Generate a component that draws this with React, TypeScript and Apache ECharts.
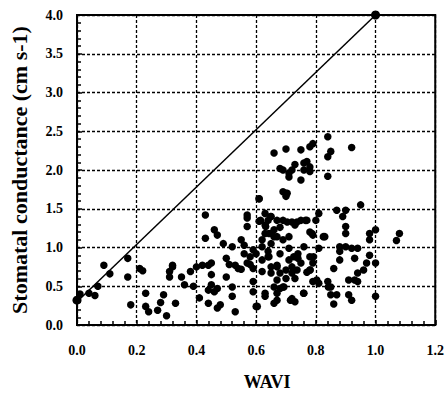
import React, { useEffect, useRef } from "react";
import * as echarts from "echarts";

const wavi: number[] = [
  0.0, 0.01, 0.04, 0.06, 0.07, 0.09, 0.11, 0.17, 0.17, 0.18, 0.21, 0.22, 0.23, 0.23, 0.24, 0.27,
  0.28, 0.29, 0.3, 0.33, 0.31, 0.32, 0.32, 0.31, 0.35, 0.36, 0.38, 0.39, 0.41, 0.42, 0.43, 0.43,
  0.44, 0.44, 0.45, 0.45, 0.44, 0.46, 0.46, 0.47, 0.48, 0.47, 0.49, 0.5, 0.5, 0.52, 0.52, 0.52,
  0.53, 0.53, 0.54, 0.55, 0.56, 0.57, 0.57, 0.57, 0.56, 0.57, 0.58, 0.59, 0.59, 0.6, 0.59, 0.59,
  0.6, 0.61, 0.61, 0.62, 0.62, 0.62, 0.62, 0.63, 0.63, 0.63, 0.63, 0.63, 0.64, 0.65, 0.65, 0.65,
  0.64, 0.65, 0.65, 0.66, 0.66, 0.67, 0.67, 0.67, 0.66, 0.67, 0.67, 0.68, 0.68, 0.68, 0.68, 0.69,
  0.7, 0.69, 0.7, 0.7, 0.69, 0.69, 0.69, 0.7, 0.71, 0.71, 0.73, 0.72, 0.71, 0.71, 0.71, 0.72,
  0.72, 0.73, 0.72, 0.73, 0.72, 0.73, 0.74, 0.74, 0.75, 0.75, 0.75, 0.75, 0.76, 0.76, 0.76, 0.76,
  0.77, 0.77, 0.78, 0.77, 0.78, 0.78, 0.78, 0.79, 0.78, 0.78, 0.79, 0.79, 0.79, 0.8, 0.81, 0.81,
  0.81, 0.83, 0.84, 0.84, 0.84, 0.85, 0.84, 0.85, 0.85, 0.86, 0.86, 0.87, 0.87, 0.88, 0.88, 0.88,
  0.89, 0.9, 0.9, 0.9, 0.9, 0.91, 0.91, 0.92, 0.92, 0.92, 0.93, 0.93, 0.94, 0.94, 0.94, 0.95,
  0.96, 0.97, 0.98, 0.98, 0.98, 1.0, 1.0, 1.0, 1.0, 1.08, 1.07, 0.68, 0.67, 0.7, 0.64,
  0.615, 0.632, 0.649, 0.643, 0.66, 0.704, 0.737, 0.765, 0.787, 0.825, 0.643, 0.67, 0.726, 0.737,
  0.792, 0.781, 0.66, 0.693, 0.715, 0.759, 0.803, 0.842, 0.604, 0.704, 0.61, 0.4, 0.45, 0.51,
  0.55, 0.58, 0.47,
];

const conductance: number[] = [
  0.32, 0.4, 0.41, 0.38, 0.5, 0.77, 0.66, 0.86, 0.62, 0.26, 0.73, 0.7, 0.41, 0.24, 0.17, 0.19,
  0.29, 0.39, 0.12, 0.28, 0.69, 0.75, 0.77, 0.62, 0.62, 0.52, 0.69, 0.5, 0.35, 0.77, 1.42, 1.12,
  0.28, 0.77, 0.65, 0.52, 0.45, 0.43, 1.23, 1.16, 0.26, 0.22, 1.05, 0.62, 0.86, 1.01, 0.37, 0.49,
  0.17, 0.77, 0.73, 1.1, 1.03, 1.38, 1.42, 1.27, 0.92, 0.8, 0.88, 0.73, 0.97, 0.92, 0.43, 0.56,
  0.24, 1.63, 1.34, 1.1, 1.01, 0.84, 0.69, 0.41, 0.37, 1.44, 1.29, 1.18, 1.35, 1.18, 1.4, 1.05,
  0.88, 0.75, 0.67, 2.22, 1.23, 0.77, 0.58, 0.41, 0.28, 0.32, 1.14, 0.92, 0.67, 0.47, 2.02, 2.0,
  2.27, 1.72, 1.7, 1.66, 1.35, 1.1, 0.49, 0.71, 1.91, 1.96, 2.07, 2.0, 1.14, 0.99, 0.84, 0.67,
  0.75, 0.6, 0.34, 0.3, 1.33, 1.29, 0.92, 0.86, 2.26, 0.8, 1.35, 1.87, 2.09, 2.0, 0.41, 1.01,
  1.35, 0.68, 2.3, 2.11, 2.04, 1.98, 1.2, 1.16, 0.88, 0.71, 2.34, 0.8, 0.56, 1.35, 1.44, 0.99,
  0.54, 1.14, 2.43, 1.92, 2.17, 2.24, 0.56, 0.49, 0.39, 0.73, 0.27, 0.39, 1.48, 1.01, 0.95, 0.84,
  1.4, 1.48, 1.27, 1.18, 1.01, 0.58, 0.39, 0.32, 0.99, 2.29, 0.86, 0.58, 0.99, 0.67, 0.56, 1.55,
  0.71, 0.8, 1.18, 1.1, 0.9, 0.8, 0.37, 1.23, 4.0, 1.18, 1.09, 1.26, 1.35, 0.6, 0.95,
  1.35, 1.27, 1.4, 1.18, 1.14, 1.33, 1.33, 1.35, 1.18, 1.14, 0.88, 0.75, 0.88, 0.71,
  0.88, 0.71, 0.49, 0.49, 0.32, 0.41, 0.58, 0.49, 0.24, 1.7, 1.63, 0.75, 0.8, 0.78,
  0.72, 0.78, 0.47,
];

const lineX: number[] = [0.0, 1.0];
const lineY: number[] = [0.3, 4.0];

const xTicks: number[] = [0, 0.2, 0.4, 0.6, 0.8, 1.0, 1.2];
const yTicks: number[] = [0, 0.5, 1.0, 1.5, 2.0, 2.5, 3.0, 3.5, 4.0];

const FONT = "Liberation Serif";

export default function App() {
  const ref = useRef<HTMLDivElement>(null);
  useEffect(() => {
    if (!ref.current) return;
    const chart = echarts.init(ref.current, null, { renderer: "svg" });
    const points = wavi.map((x, i) => {
      const y = conductance[i];
      const isEnd = (x === lineX[0] && i === 0) || (x === lineX[1] && y === lineY[1]);
      return isEnd ? { value: [x, y], symbolSize: 9 } : [x, y];
    });
    const linePts = lineX.map((x, i) => [x, lineY[i]]);
    chart.setOption({
      animation: false,
      backgroundColor: "#ffffff",
      grid: {
        left: 76,
        right: 9,
        top: 15,
        bottom: 73,
        show: true,
        borderColor: "#000",
        borderWidth: 2,
        backgroundColor: "transparent",
      },
      xAxis: {
        type: "value",
        min: xTicks[0],
        max: xTicks[xTicks.length - 1],
        interval: 0.2,
        name: "WAVI",
        nameLocation: "middle",
        nameGap: 48,
        nameTextStyle: {
          fontFamily: FONT,
          fontWeight: "bold",
          fontSize: 18,
          color: "#000",
          padding: [0, 0, 0, 22],
        },
        axisLine: { show: true, lineStyle: { color: "#000", width: 2 } },
        axisTick: { show: true, inside: true, length: 5, lineStyle: { color: "#000", width: 1.5 } },
        minorTick: { show: true, splitNumber: 5, length: 4, lineStyle: { color: "#000", width: 1.5 } },
        axisLabel: {
          fontFamily: FONT,
          fontWeight: "bold",
          fontSize: 14,
          color: "#000",
          margin: 18,
          formatter: (v: number) => v.toFixed(1),
        },
        splitLine: { show: true, lineStyle: { color: "#000", type: [3, 2], width: 1.3 } },
      },
      yAxis: {
        type: "value",
        min: yTicks[0],
        max: yTicks[yTicks.length - 1],
        interval: 0.5,
        name: "Stomatal conductance (cm s-1)",
        nameLocation: "middle",
        nameGap: 47,
        nameRotate: 90,
        nameTextStyle: { fontFamily: FONT, fontWeight: "bold", fontSize: 22, color: "#000" },
        axisLine: { show: true, lineStyle: { color: "#000", width: 2 } },
        axisTick: { show: true, inside: true, length: 5, lineStyle: { color: "#000", width: 1.5 } },
        minorTick: { show: true, splitNumber: 5, length: 4, lineStyle: { color: "#000", width: 1.5 } },
        axisLabel: {
          fontFamily: FONT,
          fontWeight: "bold",
          fontSize: 14,
          color: "#000",
          margin: 14,
          formatter: (v: number) => v.toFixed(1),
        },
        splitLine: { show: true, lineStyle: { color: "#000", type: [3, 2], width: 1.3 } },
      },
      series: [
        {
          type: "line",
          data: linePts,
          showSymbol: false,
          symbol: "none",
          lineStyle: { color: "#000", width: 1.5 },
          z: 3,
        },
        {
          type: "scatter",
          data: points,
          symbol: "circle",
          symbolSize: 7.5,
          itemStyle: { color: "#000", opacity: 1 },
          z: 4,
        },
      ],
    });
    return () => chart.dispose();
  }, []);
  return (
    <div
      ref={ref}
      style={{ position: "fixed", left: 0, top: 0, width: 447, height: 398, background: "#fff" }}
    />
  );
}
